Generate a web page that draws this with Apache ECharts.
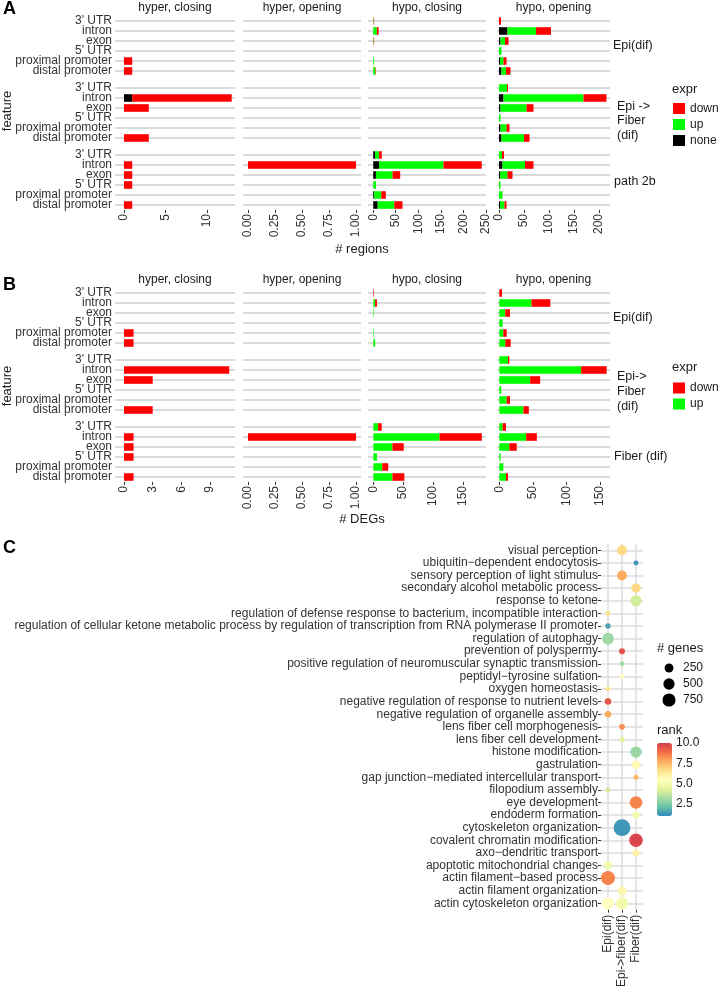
<!DOCTYPE html>
<html>
<head>
<meta charset="utf-8">
<script src="https://cdn.jsdelivr.net/npm/echarts@6/dist/echarts.min.js"></script>
<style>
html, body { margin: 0; padding: 0; background: #fff; }
#chart { width: 720px; height: 990px; }
</style>
</head>
<body>
<div id="chart"></div>
<script>
const features = ["3' UTR", "intron", "exon", "5' UTR", "proximal promoter", "distal promoter"];
const directions = ["hyper, closing", "hyper, opening", "hypo, closing", "hypo, opening"];
const stripsA = ["Epi(dif)", "Epi ->\nFiber\n(dif)", "path 2b"];
const stripsB = ["Epi(dif)", "Epi->\nFiber\n(dif)", "Fiber (dif)"];

// A: # regions, [direction][feature]
const regEpiNone = [[0,0,0,0,0,0],[0,0,0,0,0,0],[0,0,0,0,0,0],[0,17,3,0,2,5]];
const regEpiUp   = [[0,0,0,0,0,0],[0,0,0,0,0,0],[1,8,1,0,2,5],[0,57,9,5,7,9]];
const regEpiDown = [[0,0,0,0,1,1],[0,0,0,0,0,0],[1,4,1,0,0,1],[4,30,7,0,6,9]];
const regEfNone  = [[0,1,0,0,0,0],[0,0,0,0,0,0],[0,0,0,0,0,0],[0,9,3,0,3,5]];
const regEfUp    = [[0,0,0,0,0,0],[0,0,0,0,0,0],[0,0,0,0,0,0],[16,160,52,3,12,45]];
const regEfDown  = [[0,12,3,0,0,3],[0,0,0,0,0,0],[0,0,0,0,0,0],[2,46,14,0,6,11]];
const regP2bNone = [[0,0,0,0,0,0],[0,0,0,0,0,0],[4,13,6,0,2,10],[0,7,2,0,0,2]];
const regP2bUp   = [[0,0,0,0,0,0],[0,0,0,0,0,0],[9,143,37,6,16,37],[6,45,15,3,7,9]];
const regP2bDown = [[0,1,1,1,0,1],[0,1,0,0,0,0],[6,85,17,0,10,18],[4,17,10,0,0,4]];

// B: # DEGs
const degEpiUp   = [[0,0,0,0,0,0],[0,0,0,0,0,0],[0,3,1,0,1,3],[0,48,9,5,6,9]];
const degEpiDown = [[0,0,0,0,1,1],[0,0,0,0,0,0],[1,3,0,0,0,0],[4,28,7,0,5,8]];
const degEfUp    = [[0,0,0,0,0,0],[0,0,0,0,0,0],[0,0,0,0,0,0],[13,122,46,3,11,36]];
const degEfDown  = [[0,11,3,0,0,3],[0,0,0,0,0,0],[0,0,0,0,0,0],[2,38,15,0,5,8]];
const degFibUp   = [[0,0,0,0,0,0],[0,0,0,0,0,0],[8,111,32,6,15,32],[5,40,15,2,6,10]];
const degFibDown = [[0,1,1,1,0,1],[0,1,0,0,0,0],[6,71,19,0,10,20],[5,16,11,0,0,3]];

const ticksA = [[0,5,10],[0,0.25,0.5,0.75,1],[0,50,100,150,200,250],[0,50,100,150,200]];
const ticksB = [[0,3,6,9],[0,0.25,0.5,0.75,1],[0,50,100,150],[0,50,100,150]];

// C: GO terms
const goTerms = [
  "visual perception",
  "ubiquitin\u2212dependent endocytosis",
  "sensory perception of light stimulus",
  "secondary alcohol metabolic process",
  "response to ketone",
  "regulation of defense response to bacterium, incompatible interaction",
  "regulation of cellular ketone metabolic process by regulation of transcription from RNA polymerase II promoter",
  "regulation of autophagy",
  "prevention of polyspermy",
  "positive regulation of neuromuscular synaptic transmission",
  "peptidyl\u2212tyrosine sulfation",
  "oxygen homeostasis",
  "negative regulation of response to nutrient levels",
  "negative regulation of organelle assembly",
  "lens fiber cell morphogenesis",
  "lens fiber cell development",
  "histone modification",
  "gastrulation",
  "gap junction\u2212mediated intercellular transport",
  "filopodium assembly",
  "eye development",
  "endoderm formation",
  "cytoskeleton organization",
  "covalent chromatin modification",
  "axo\u2212dendritic transport",
  "apoptotic mitochondrial changes",
  "actin filament\u2212based process",
  "actin filament organization",
  "actin cytoskeleton organization"
];
const goGroups = ["Epi(dif)", "Epi->fiber(dif)", "Fiber(dif)"];
const pointTerm  = [0,1,2,3,4,5,6,7,8,9,10,11,12,13,14,15,16,17,18,19,20,21,22,23,24,25,26,27,28,28];
const pointGroup = [1,2,1,2,2,0,0,0,1,1,1,0,0,0,1,1,2,2,2,0,2,2,1,2,2,0,0,1,0,1];
const pointGenes = [358,29,358,290,467,29,40,553,66,20,20,20,90,90,53,40,503,220,35,29,660,117,1400,805,117,183,884,263,592,660];
const pointRank  = [6.8,1.3,7.8,6.8,4,6.6,1.5,3,9.5,3,5.5,6.5,9.5,7.8,8.3,4.3,3,5.7,7.5,4,8.5,5,1.3,9.8,6,5,8.5,5.8,5.5,5];
const sizeBreaks = [250, 500, 750];
const rankBreaks = [10, 7.5, 5, 2.5];

const exprColor = { down: '#ff0000', up: '#00ff00', none: '#000000' };
const spectral = ['#3288bd','#66c2a5','#abdda4','#e6f598','#ffffbf','#fee08b','#fdae61','#f46d43','#d53e4f'];
const FONT = '"Liberation Sans", Arial, sans-serif';
const TXT = '#333333';
const dotSize = g => 3 + 0.37 * Math.sqrt(g);

const colLeft = [115, 243, 368, 497];
const colRight = [235, 361, 486, 610];
const rangeA = [[-1.08, 13.4], [-0.046, 1.046], [-11.6, 250.5], [-4, 222]];
const rangeB = [[-0.94, 11.6], [-0.046, 1.046], [-9, 189], [-3.4, 165]];

const grid = [], xAxis = [], yAxis = [], series = [];

function gridLines(data, color, width) {
  return {
    silent: true, symbol: ['none', 'none'], label: { show: false }, z: 1,
    lineStyle: { color: color, width: width, type: 'solid' },
    emphasis: { disabled: true }, animation: false, data: data
  };
}

function buildPanel(rows, tops, ranges, ticks, exprs) {
  rows.forEach((rd, r) => {
    directions.forEach((dir, c) => {
      const gi = grid.length;
      const last = r === rows.length - 1;
      grid.push({ left: colLeft[c], top: tops[r], width: colRight[c] - colLeft[c], height: 60 });
      xAxis.push({
        type: 'value', gridIndex: gi, min: ranges[c][0], max: ranges[c][1],
        splitLine: { show: false }, axisLine: { show: false },
        axisTick: { show: last, customValues: ticks[c], length: 3, lineStyle: { color: '#333' } },
        axisLabel: {
          show: last, customValues: ticks[c], rotate: 90, margin: 4, fontSize: 12,
          color: TXT, fontFamily: FONT,
          formatter: v => c === 1 ? Number(v).toFixed(2) : String(v)
        }
      });
      yAxis.push({
        type: 'category', gridIndex: gi, data: features, inverse: true,
        axisLine: { show: false }, splitLine: { show: false },
        axisTick: { show: c === 0, alignWithLabel: true, length: 2, lineStyle: { color: '#333' } },
        axisLabel: { show: c === 0, interval: 0, fontSize: 12, color: TXT, margin: 3, fontFamily: FONT }
      });
      exprs.forEach((e, k) => {
        const s = {
          type: 'bar', name: e, xAxisIndex: gi, yAxisIndex: gi, stack: 'f' + gi,
          barWidth: '76%', z: 3, silent: true,
          itemStyle: { color: exprColor[e] }, data: rd[e][c]
        };
        if (k === 0) s.markLine = gridLines(features.map(f => ({ yAxis: f })), '#dadada', 1.8);
        series.push(s);
      });
    });
  });
}

buildPanel([
  { none: regEpiNone, up: regEpiUp, down: regEpiDown },
  { none: regEfNone, up: regEfUp, down: regEfDown },
  { none: regP2bNone, up: regP2bUp, down: regP2bDown }
], [16, 83, 150], rangeA, ticksA, ['none', 'up', 'down']);

buildPanel([
  { up: degEpiUp, down: degEpiDown },
  { up: degEfUp, down: degEfDown },
  { up: degFibUp, down: degFibDown }
], [288, 355, 422], rangeB, ticksB, ['up', 'down']);

// panel C
const gC = grid.length;
grid.push({ left: 601, top: 544, width: 42, height: 372 });
xAxis.push({
  type: 'category', gridIndex: gC, data: goGroups,
  axisLine: { show: false }, splitLine: { show: false },
  axisTick: { show: true, alignWithLabel: true, length: 3, lineStyle: { color: '#333' } },
  axisLabel: { rotate: 90, interval: 0, fontSize: 12, color: TXT, margin: 5, fontFamily: FONT }
});
yAxis.push({
  type: 'category', gridIndex: gC, data: goTerms, inverse: true,
  axisLine: { show: false }, splitLine: { show: false },
  axisTick: { show: true, alignWithLabel: true, length: 3, lineStyle: { color: '#333' } },
  axisLabel: { interval: 0, fontSize: 12, color: TXT, margin: 3, fontFamily: FONT }
});
const scatterIndex = series.length;
series.push({
  type: 'scatter', name: 'GO', xAxisIndex: gC, yAxisIndex: gC, z: 3, silent: true,
  data: pointTerm.map((t, i) => [goGroups[pointGroup[i]], goTerms[t], pointRank[i], pointGenes[i]]),
  encode: { x: 0, y: 1 },
  symbolSize: v => dotSize(v[3]),
  itemStyle: { opacity: 1 },
  markLine: gridLines(goTerms.map(t => ({ yAxis: t })).concat(goGroups.map(g => ({ xAxis: g }))), '#dcdcdc', 1.5)
});

function txt(text, x, y, o) {
  o = o || {};
  return {
    type: 'text', x: x, y: y, rotation: o.rot || 0, silent: true,
    style: {
      text: text, x: 0, y: 0, fill: o.fill || '#1a1a1a',
      font: (o.weight || 'normal') + ' ' + (o.size || 12) + 'px ' + FONT,
      textAlign: o.align || 'center', textVerticalAlign: 'middle',
      lineHeight: o.lh || 14, textLineHeight: o.lh || 14
    }
  };
}

const graphics = [];
graphics.push(txt('A', 3, 9, { size: 18, weight: 'bold', align: 'left', fill: '#000' }));
graphics.push(txt('B', 3, 285, { size: 18, weight: 'bold', align: 'left', fill: '#000' }));
graphics.push(txt('C', 3, 548, { size: 18, weight: 'bold', align: 'left', fill: '#000' }));
directions.forEach((d, c) => {
  const cx = (colLeft[c] + colRight[c]) / 2;
  graphics.push(txt(d, cx, 8));
  graphics.push(txt(d, cx, 280));
});
graphics.push(txt(stripsA[0], 613, 46, { align: 'left', size: 12.5 }));
graphics.push(txt(stripsA[1], 617, 121, { align: 'left', lh: 14.5, size: 12.5 }));
graphics.push(txt(stripsA[2], 614, 182, { align: 'left', size: 12.5 }));
graphics.push(txt(stripsB[0], 613, 318, { align: 'left', size: 12.5 }));
graphics.push(txt(stripsB[1], 617, 392, { align: 'left', lh: 15, size: 12.5 }));
graphics.push(txt(stripsB[2], 614, 457, { align: 'left', size: 12.5 }));
graphics.push(txt('feature', 7, 111, { rot: Math.PI / 2, size: 13 }));
graphics.push(txt('feature', 7, 386, { rot: Math.PI / 2, size: 13 }));
graphics.push(txt('# regions', 362, 249, { size: 13 }));
graphics.push(txt('# DEGs', 362, 519, { size: 13 }));
graphics.push(txt('expr', 672, 89, { align: 'left', size: 13 }));
graphics.push(txt('expr', 672, 367, { align: 'left', size: 13 }));
graphics.push(txt('# genes', 657, 648, { align: 'left', size: 13 }));
sizeBreaks.forEach((b, i) => {
  graphics.push({ type: 'circle', silent: true, shape: { cx: 669, cy: 668 + i * 16, r: dotSize(b) / 2 }, style: { fill: '#000' } });
  graphics.push(txt(String(b), 683, 668 + i * 16, { align: 'left' }));
});
graphics.push(txt('rank', 657, 730, { align: 'left', size: 13 }));
rankBreaks.forEach(v => {
  graphics.push(txt(v.toFixed(1), 676, 743 + (10 - v) * 73 / 9, { align: 'left' }));
});

const option = {
  animation: false,
  textStyle: { fontFamily: FONT },
  grid: grid,
  xAxis: xAxis,
  yAxis: yAxis,
  series: series,
  legend: [
    {
      data: ['down', 'up', 'none'], orient: 'vertical', left: 673, top: 102.5, padding: 0,
      itemWidth: 12, itemHeight: 11, itemGap: 4, icon: 'rect', selectedMode: false,
      textStyle: { fontSize: 12, color: '#1a1a1a', fontFamily: FONT }
    },
    {
      data: ['down', 'up'], orient: 'vertical', left: 673, top: 382, padding: 0,
      itemWidth: 12, itemHeight: 11, itemGap: 4, icon: 'rect', selectedMode: false,
      textStyle: { fontSize: 12, color: '#1a1a1a', fontFamily: FONT }
    }
  ],
  visualMap: {
    type: 'continuous', min: 1, max: 10, seriesIndex: scatterIndex, dimension: 2,
    inRange: { color: spectral }, left: 657, top: 743, itemWidth: 15, itemHeight: 73,
    calculable: false, padding: 0, orient: 'vertical'
  },
  graphic: graphics
};

const chart = echarts.init(document.getElementById('chart'));
chart.setOption(option);
</script>
</body>
</html>
